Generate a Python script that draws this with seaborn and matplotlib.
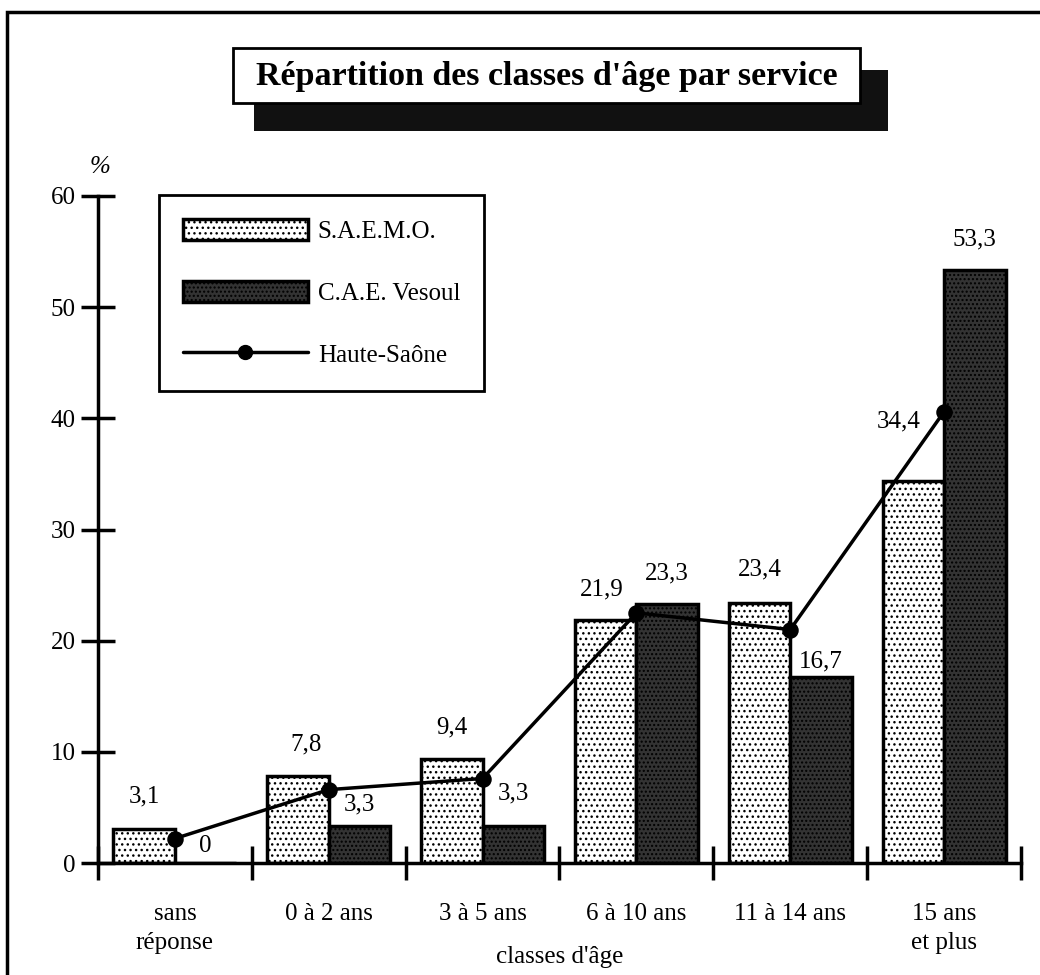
import matplotlib
matplotlib.use("Agg")
import numpy as np
import pandas as pd
import matplotlib.pyplot as plt
from matplotlib.patches import Patch, Rectangle
from matplotlib.lines import Line2D
import seaborn as sns

# --- données ---
classes = ["sans\nréponse", "0 à 2 ans", "3 à 5 ans", "6 à 10 ans", "11 à 14 ans", "15 ans\net plus"]
saemo = [3.1, 7.8, 9.4, 21.9, 23.4, 34.4]
cae_vesoul = [0, 3.3, 3.3, 23.3, 16.7, 53.3]
haute_saone = [2.2, 6.6, 7.6, 22.5, 21.0, 40.6]
yticks = [0, 10, 20, 30, 40, 50, 60]
services = ["S.A.E.M.O.", "C.A.E. Vesoul"]

# décalage des étiquettes (px), placées à la main dans l'original
saemo_dy = [32, 32, 31, 30, 33, 59]
saemo_dx = [0, 8, 0, -4, 0, -15]
cae_dy = [17, 22, 33, 31, 16, 31]

W, H = 1040, 975
FS = 18
DARK = "#333333"

sns.set_theme(style="ticks", rc={"axes.edgecolor": "black", "xtick.color": "black",
                                 "ytick.color": "black", "text.color": "black",
                                 "axes.labelcolor": "black"})
plt.rcParams["font.family"] = ["Liberation Serif", "DejaVu Serif"]
plt.rcParams["hatch.linewidth"] = 1.0

df = pd.DataFrame({
    "classe": classes * 2,
    "pct": saemo + cae_vesoul,
    "service": [services[0]] * len(classes) + [services[1]] * len(classes),
})

fig = plt.figure(figsize=(W / 100, H / 100), dpi=100)
ax = fig.add_axes([98 / W, 112 / H, 923 / W, 667 / H])

sns.barplot(data=df, x="classe", y="pct", hue="service", hue_order=services,
            palette={services[0]: "white", services[1]: DARK}, saturation=1,
            width=0.8, gap=0, edgecolor="black", linewidth=2.5, legend=False, ax=ax)
for cont, h in zip(ax.containers, ["...", "...."]):
    for bar in cont:
        bar.set_hatch(h)

sns.pointplot(x=classes, y=haute_saone, color="black", markers="o", markersize=10,
              linewidth=2.5, errorbar=None, ax=ax)
for ln in ax.lines:
    ln.set_zorder(5)


def fmt(v):
    return "0" if v == 0 else f"{v:.1f}".replace(".", ",")


for i, v in enumerate(saemo):
    ax.annotate(fmt(v), (i - 0.2, v), xytext=(saemo_dx[i] * 0.72, saemo_dy[i] * 0.72),
                textcoords="offset points", ha="center", va="center", fontsize=FS)
for i, v in enumerate(cae_vesoul):
    ax.annotate(fmt(v), (i + 0.2, v), xytext=(0, cae_dy[i] * 0.72),
                textcoords="offset points", ha="center", va="center", fontsize=FS)

# axes
ax.set_xlim(-0.5, len(classes) - 0.5)
ax.set_ylim(0, 60)
ax.set_yticks(yticks)
sns.despine(ax=ax)
for s in ["left", "bottom"]:
    ax.spines[s].set_linewidth(2.5)
ax.tick_params(axis="y", direction="inout", length=24, width=2.5, labelsize=FS, pad=4)
ax.tick_params(axis="x", which="major", length=0, labelsize=FS, pad=29)
ax.set_xticks(np.arange(-0.5, len(classes), 1), minor=True)
ax.tick_params(axis="x", which="minor", direction="inout", length=24, width=2.5)
for lab in ax.get_xticklabels():
    lab.set_linespacing(1.4)
ax.set_xlabel("classes d'âge", fontsize=FS, labelpad=-6)
ax.set_ylabel("")
fig.text(100 / W, 1 - 167 / H, "%", ha="center", va="center", fontsize=FS, style="italic")

# légende
handles = [
    Patch(facecolor="white", edgecolor="black", hatch="...", linewidth=2.5),
    Patch(facecolor=DARK, edgecolor="black", hatch="....", linewidth=2.5),
    Line2D([], [], color="black", linewidth=2.5, marker="o", markersize=10),
]
leg = ax.legend(handles, services + ["Haute-Saône"], loc="upper left",
                bbox_to_anchor=(159 / W, 1 - 195 / H), bbox_transform=fig.transFigure,
                fancybox=False, edgecolor="black", framealpha=1, fontsize=FS,
                handlelength=5.0, handleheight=0.95, labelspacing=1.5,
                borderpad=0.95, handletextpad=0.4, borderaxespad=0, numpoints=1)
leg.get_frame().set_linewidth(2)

# cadre et titre
fig.add_artist(Rectangle((7 / W, -0.1), 1.2, 1 - 12 / H + 0.1, transform=fig.transFigure,
                         fill=False, edgecolor="black", linewidth=2.5))
fig.add_artist(Rectangle((254 / W, 1 - 131 / H), (888 - 254) / W, (131 - 70) / H,
                         transform=fig.transFigure, facecolor="#111111", edgecolor="none"))
fig.add_artist(Rectangle((233 / W, 1 - 103 / H), (860 - 233) / W, (103 - 48) / H,
                         transform=fig.transFigure, facecolor="white", edgecolor="black",
                         linewidth=2))
fig.text((233 + 860) / 2 / W, 1 - 76 / H, "Répartition des classes d'âge par service",
         ha="center", va="center", fontsize=24.5, fontweight="bold")

fig.savefig("out.png", dpi=100)
